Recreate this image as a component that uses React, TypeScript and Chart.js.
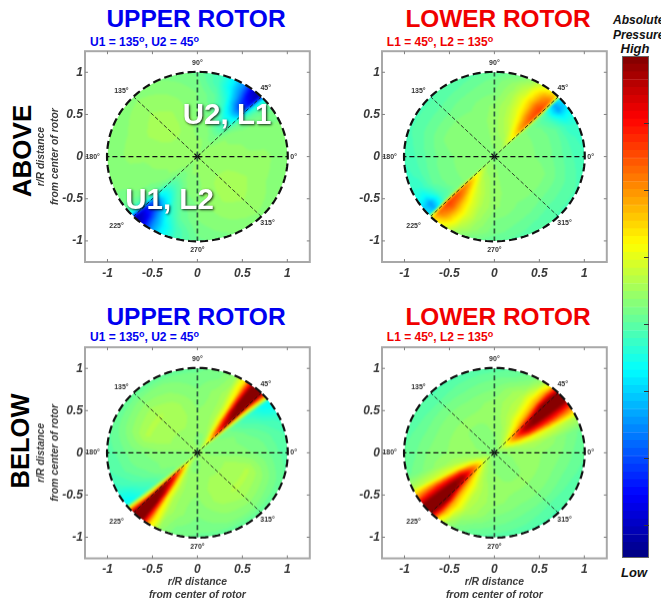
import React, { useEffect, useRef } from "react";
import { Chart, registerables } from "chart.js";

Chart.register(...registerables);

const FONT = '"Liberation Sans", Arial, sans-serif';

const radii = [0, 0.15, 0.3, 0.45, 0.6, 0.75, 0.9, 1];
const angles = [0, 15, 25, 32, 38, 43, 45, 47, 52, 58, 65, 75, 90, 115, 135, 160];

const aboveUpper = [
  [.52,.52,.52,.52,.52,.52,.52,.52,.52,.52,.52,.52,.52,.52,.52,.52],
  [.52,.52,.52,.52,.52,.52,.51,.51,.51,.51,.51,.52,.52,.52,.53,.53],
  [.52,.52,.52,.52,.51,.5,.5,.49,.49,.49,.5,.51,.51,.53,.53,.53],
  [.52,.52,.51,.51,.5,.48,.46,.45,.44,.45,.47,.5,.51,.53,.54,.53],
  [.52,.51,.51,.5,.49,.45,.4,.38,.36,.38,.44,.48,.5,.53,.54,.53],
  [.52,.51,.51,.5,.48,.42,.3,.2,.2,.3,.41,.47,.5,.52,.53,.52],
  [.51,.51,.5,.49,.47,.38,.2,.08,.12,.26,.36,.44,.49,.51,.52,.51],
  [.51,.5,.5,.49,.47,.36,.15,.04,.08,.25,.36,.44,.48,.5,.51,.5],
];
const aboveLower = [
  [.51,.51,.51,.51,.51,.51,.51,.51,.51,.51,.51,.51,.51,.51,.51,.51],
  [.51,.51,.51,.51,.51,.51,.52,.54,.54,.53,.52,.52,.52,.51,.51,.51],
  [.51,.51,.51,.51,.51,.51,.58,.63,.61,.58,.55,.54,.52,.51,.51,.51],
  [.5,.5,.5,.5,.5,.51,.66,.74,.7,.63,.58,.55,.52,.51,.51,.51],
  [.49,.49,.49,.49,.48,.5,.7,.8,.76,.67,.6,.55,.52,.5,.5,.5],
  [.47,.47,.47,.45,.44,.46,.72,.82,.78,.68,.6,.54,.5,.49,.48,.48],
  [.45,.44,.42,.37,.28,.3,.64,.76,.72,.64,.56,.52,.49,.47,.46,.46],
  [.44,.43,.42,.39,.34,.36,.58,.66,.62,.58,.52,.49,.47,.46,.45,.45],
];
const belowUpper = [
  [.52,.52,.52,.52,.52,.52,.52,.52,.52,.52,.52,.52,.52,.52,.52,.52],
  [.51,.51,.51,.51,.51,.54,.58,.6,.58,.55,.52,.51,.51,.52,.52,.52],
  [.51,.51,.51,.5,.5,.6,.78,.82,.72,.6,.54,.52,.52,.53,.53,.53],
  [.51,.5,.5,.49,.48,.62,.92,.96,.84,.62,.55,.52,.52,.54,.54,.54],
  [.5,.49,.48,.46,.45,.66,1,1,.95,.62,.54,.52,.51,.54,.55,.55],
  [.49,.48,.46,.44,.42,.7,1,1,1,.64,.54,.52,.5,.52,.53,.52],
  [.47,.46,.44,.4,.38,.8,1,1,1,.66,.53,.5,.49,.5,.5,.49],
  [.46,.45,.43,.39,.38,.85,1,1,1,.65,.52,.49,.48,.47,.47,.47],
];
const belowLower = [
  [.5,.5,.5,.5,.5,.5,.5,.5,.5,.5,.5,.5,.5,.5,.5,.5],
  [.52,.53,.56,.58,.58,.57,.56,.56,.55,.54,.53,.52,.51,.51,.51,.51],
  [.52,.54,.62,.72,.78,.76,.72,.68,.62,.58,.55,.53,.52,.51,.51,.52],
  [.52,.54,.62,.84,.96,.94,.86,.78,.68,.62,.57,.54,.52,.52,.52,.52],
  [.51,.53,.6,.85,1,1,.98,.86,.7,.62,.56,.54,.52,.51,.51,.51],
  [.5,.51,.58,.84,1,1,1,.98,.72,.62,.55,.53,.5,.49,.49,.49],
  [.48,.49,.56,.8,1,1,1,.95,.7,.56,.51,.49,.48,.47,.46,.47],
  [.47,.48,.55,.76,1,1,1,.9,.62,.52,.49,.47,.46,.45,.45,.46],
];

const axisTicks = [-1, -0.5, 0, 0.5, 1];
const spokeAngles = [45, 135, 225, 315];
const horizontalAngles = [0, 180];
const verticalAngles = [90, 270];
const angleLabels = ["90°", "45°", "135°", "180°", "0°", "225°", "270°", "315°"];
const angleLabelX = [0, 0.76, -0.845, -1.165, 1.07, -0.9, 0, 0.78];
const angleLabelY = [1.11, 0.81, 0.78, 0, 0, -0.82, -1.11, -0.79];
const axisTitle = ["r/R distance", "from center of rotor"];
const colorbarTicks = [0.5, 1.5, 2.5, 3.5, 4.5, 5.5, 6.5];
const colorbarSpan = 7.5;
const LEVELS = 64;

const clamp = (v: number) => Math.max(0, Math.min(1, v));
const jet = (v: number) => [
  clamp(1.5 - Math.abs(4 * v - 3)),
  clamp(1.5 - Math.abs(4 * v - 2)),
  clamp(1.5 - Math.abs(4 * v - 1)),
].map((c) => Math.round(c * 255));
const levelColor = (i: number) => jet((i + 0.5) / LEVELS);

function sample(matrix: number[][], r: number, deg: number) {
  let ri = 0;
  while (ri < radii.length - 2 && r > radii[ri + 1]) ri++;
  const rt = clamp((r - radii[ri]) / (radii[ri + 1] - radii[ri]));
  let ci = angles.length - 1;
  while (ci > 0 && deg < angles[ci]) ci--;
  const next = (ci + 1) % angles.length;
  const a1 = ci === angles.length - 1 ? 180 : angles[ci + 1];
  const at = (deg - angles[ci]) / (a1 - angles[ci]);
  const lo = matrix[ri][ci] * (1 - at) + matrix[ri][next] * at;
  const hi = matrix[ri + 1][ci] * (1 - at) + matrix[ri + 1][next] * at;
  return lo * (1 - rt) + hi * rt;
}

function makeHeatPlugin(matrix: number[][], overlay?: { text: string; x: number; y: number }[]) {
  return {
    id: "panelDecor",
    beforeDatasetsDraw(chart: any) {
      const { ctx, chartArea: a, scales } = chart;
      const sx = scales.x, sy = scales.y;
      const w = Math.ceil(a.right - a.left), h = Math.ceil(a.bottom - a.top);
      const off = document.createElement("canvas");
      off.width = w; off.height = h;
      const octx = off.getContext("2d")!;
      const img = octx.createImageData(w, h);
      for (let j = 0; j < h; j++) {
        const y = sy.getValueForPixel(a.top + j + 0.5);
        for (let i = 0; i < w; i++) {
          const x = sx.getValueForPixel(a.left + i + 0.5);
          const r = Math.hypot(x, y);
          if (r > 1.03) continue;
          let deg = (Math.atan2(y, x) * 180) / Math.PI;
          deg = ((deg % 180) + 180) % 180;
          const v = sample(matrix, Math.min(r, 1), deg);
          const c = levelColor(Math.min(LEVELS - 1, Math.floor(v * LEVELS)));
          const k = (j * w + i) * 4;
          img.data[k] = c[0]; img.data[k + 1] = c[1]; img.data[k + 2] = c[2]; img.data[k + 3] = 255;
        }
      }
      octx.putImageData(img, 0, 0);
      const cx = sx.getPixelForValue(0), cy = sy.getPixelForValue(0);
      ctx.save();
      ctx.beginPath();
      ctx.ellipse(cx, cy, sx.getPixelForValue(1) - cx, cy - sy.getPixelForValue(1), 0, 0, Math.PI * 2);
      ctx.clip();
      ctx.filter = "blur(1px)";
      ctx.drawImage(off, a.left, a.top);
      ctx.restore();
    },
    afterDatasetsDraw(chart: any) {
      const { ctx, chartArea: a, scales } = chart;
      const sx = scales.x, sy = scales.y;
      ctx.save();
      ctx.strokeStyle = "#a8a8a8";
      ctx.lineWidth = 2;
      ctx.strokeRect(a.left, a.top, a.right - a.left, a.bottom - a.top);
      ctx.strokeStyle = "#808080";
      ctx.lineWidth = 1;
      ctx.beginPath();
      axisTicks.forEach((t) => {
        const px = sx.getPixelForValue(t), py = sy.getPixelForValue(t);
        ctx.moveTo(px, a.top); ctx.lineTo(px, a.top + 3);
        ctx.moveTo(px, a.bottom); ctx.lineTo(px, a.bottom - 3);
        ctx.moveTo(a.left, py); ctx.lineTo(a.left + 3, py);
        ctx.moveTo(a.right, py); ctx.lineTo(a.right - 3, py);
      });
      ctx.stroke();
      ctx.font = `bold 7px ${FONT}`;
      ctx.fillStyle = "#333";
      ctx.textAlign = "center";
      ctx.textBaseline = "middle";
      angleLabels.forEach((t, i) => {
        ctx.fillText(t, sx.getPixelForValue(angleLabelX[i]), sy.getPixelForValue(angleLabelY[i]));
      });
      if (overlay) {
        ctx.font = `bold 29.5px ${FONT}`;
        ctx.fillStyle = "#fff";
        ctx.shadowColor = "rgba(0,0,0,0.85)";
        ctx.shadowBlur = 2.5;
        ctx.shadowOffsetX = 1;
        ctx.shadowOffsetY = 1;
        overlay.forEach((o) => ctx.fillText(o.text, sx.getPixelForValue(o.x), sy.getPixelForValue(o.y)));
      }
      ctx.restore();
    },
  };
}

type PanelProps = {
  matrix: number[][];
  left: number;
  top: number;
  axisW: number;
  axisH: number;
  yTitle?: boolean;
  xTitle?: boolean;
  overlay?: { text: string; x: number; y: number }[];
};

const BOX_W = 226;
const BOX_H = 212;
const PAD = 4;

function Panel({ matrix, left, top, axisW, axisH, yTitle, xTitle, overlay }: PanelProps) {
  const ref = useRef<HTMLCanvasElement>(null);
  useEffect(() => {
    const tickFont = { family: FONT, size: 12, weight: "bold", style: "italic" };
    const titleFont = { family: FONT, size: 10.4, weight: "bold", style: "italic", lineHeight: 1.26 };
    const setTicks = (axis: any) => { axis.ticks = axisTicks.map((value) => ({ value })); };
    const circle = Array.from({ length: 181 }, (_, i) => ({
      x: Math.cos((i * 2 * Math.PI) / 180 + Math.PI / 4) * 1.005,
      y: Math.sin((i * 2 * Math.PI) / 180 + Math.PI / 4) * 1.005,
    }));
    const ray = (deg: number) => [
      { x: 0, y: 0 },
      { x: Math.cos((deg * Math.PI) / 180), y: Math.sin((deg * Math.PI) / 180) },
    ];
    const line = (data: any, width: number, dash: number[], color = "#111") => ({
      data, showLine: true, pointRadius: 0, borderColor: color, borderWidth: width, borderDash: dash, fill: false, clip: false,
    });
    const chart = new Chart(ref.current!, {
      type: "scatter",
      data: {
        datasets: [
          ...spokeAngles.map((d) => line(ray(d), 0.8, [4, 2])),
          ...horizontalAngles.map((d) => line(ray(d), 1.3, [5, 3])),
          ...verticalAngles.map((d) => line(ray(d), 1.7, [5, 3], "#2c5c40")),
          line(circle, 2.2, [8, 4]),
          { data: [{ x: 0, y: 0 }], pointStyle: "star", pointRadius: 4, borderColor: "#111", borderWidth: 1.2, showLine: false },
        ],
      } as any,
      options: {
        animation: false,
        responsive: false,
        events: [],
        layout: { padding: { top: PAD, right: PAD, left: 0, bottom: 0 } },
        plugins: { legend: { display: false }, tooltip: { enabled: false } },
        scales: {
          x: {
            type: "linear", min: -1.25, max: 1.25,
            afterBuildTicks: setTicks,
            afterFit: (s: any) => { s.height = axisH; s.paddingLeft = 0; s.paddingRight = 0; },
            grid: { display: false, drawTicks: false },
            border: { display: false },
            ticks: { font: tickFont, color: "#3a3a3a", padding: 4, maxRotation: 0, autoSkip: false, callback: (v: any) => String(v) },
            title: { display: !!xTitle, text: axisTitle, font: titleFont, color: "#3a3a3a", padding: 0 },
          },
          y: {
            type: "linear", min: -1.25, max: 1.25,
            afterBuildTicks: setTicks,
            afterFit: (s: any) => { s.width = axisW; s.paddingTop = 0; s.paddingBottom = 0; },
            grid: { display: false, drawTicks: false },
            border: { display: false },
            ticks: { font: tickFont, color: "#3a3a3a", padding: 2, autoSkip: false, callback: (v: any) => String(v) },
            title: { display: !!yTitle, text: axisTitle, font: titleFont, color: "#3a3a3a", padding: 0 },
          },
        },
      } as any,
      plugins: [makeHeatPlugin(matrix, overlay)],
    });
    return () => chart.destroy();
  }, []);
  return (
    <canvas
      ref={ref}
      width={axisW + BOX_W + PAD}
      height={axisH + BOX_H + PAD}
      style={{ position: "absolute", left, top, width: axisW + BOX_W + PAD, height: axisH + BOX_H + PAD }}
    />
  );
}

function Colorbar() {
  const ref = useRef<HTMLCanvasElement>(null);
  useEffect(() => {
    const levels = Array.from({ length: LEVELS }, (_, i) => LEVELS - 1 - i);
    const colors = levels.map((l) => {
      const c = levelColor(l);
      return `rgb(${c[0]},${c[1]},${c[2]})`;
    });
    const chart = new Chart(ref.current!, {
      type: "bar",
      data: {
        labels: levels.map(String),
        datasets: [{
          data: levels.map(() => 1),
          backgroundColor: colors,
          borderColor: colors,
          borderWidth: 0.5,
          barPercentage: 1,
          categoryPercentage: 1,
        }],
      },
      options: {
        indexAxis: "y",
        animation: false,
        responsive: false,
        events: [],
        plugins: { legend: { display: false }, tooltip: { enabled: false } },
        scales: {
          x: { display: false, min: 0, max: 1 },
          y: { display: false },
        },
      } as any,
      plugins: [{
        id: "colorbarFrame",
        afterDraw(c: any) {
          const { ctx, chartArea: a } = c;
          ctx.save();
          ctx.strokeStyle = "#666";
          ctx.lineWidth = 1;
          ctx.strokeRect(a.left + 0.5, a.top + 0.5, a.right - a.left - 1, a.bottom - a.top - 1);
          ctx.strokeStyle = "#333";
          ctx.beginPath();
          colorbarTicks.forEach((t) => {
            const y = Math.round(a.bottom - (t / colorbarSpan) * (a.bottom - a.top)) + 0.5;
            ctx.moveTo(a.right - 5, y);
            ctx.lineTo(a.right, y);
          });
          ctx.stroke();
          ctx.restore();
        },
      }],
    });
    return () => chart.destroy();
  }, []);
  return (
    <canvas ref={ref} width={27} height={502}
      style={{ position: "absolute", left: 622, top: 56, width: 27, height: 502 }} />
  );
}

function Label({ x, y, size, color, italic, rotate, start, children }: any) {
  return (
    <div style={{
      position: "absolute", left: x, top: y,
      transform: `translate(${start ? "0" : "-50%"},-50%)${rotate ? " rotate(-90deg)" : ""}`,
      fontFamily: FONT, fontWeight: "bold", fontStyle: italic ? "italic" : "normal",
      fontSize: size, color, whiteSpace: "nowrap", lineHeight: 1,
    }}>{children}</div>
  );
}

const Sup = () => <sup style={{ fontSize: "0.75em", lineHeight: 0, verticalAlign: "0.45em" }}>o</sup>;

export default function App() {
  return (
    <div style={{ position: "absolute", left: 0, top: 0, width: 661, height: 603, overflow: "hidden", background: "#fff", filter: "blur(0.35px)" }}>
      <Label x={196} y={19} size={24.5} color="#0000f0">UPPER ROTOR</Label>
      <Label x={498} y={19} size={24.4} color="#f00000">LOWER ROTOR</Label>
      <Label x={144.5} y={42} size={12} color="#0000f0">U1 = 135<Sup />, U2 = 45<Sup /></Label>
      <Label x={440} y={42} size={12} color="#f00000">L1 = 45<Sup />, L2 = 135<Sup /></Label>
      <Label x={196} y={317} size={24.5} color="#0000f0">UPPER ROTOR</Label>
      <Label x={498} y={317} size={24.4} color="#f00000">LOWER ROTOR</Label>
      <Label x={144.5} y={337} size={12} color="#0000f0">U1 = 135<Sup />, U2 = 45<Sup /></Label>
      <Label x={440} y={337} size={12} color="#f00000">L1 = 45<Sup />, L2 = 135<Sup /></Label>
      <Label x={22} y={151} size={26} color="#000" rotate>ABOVE</Label>
      <Label x={21} y={441} size={25.5} color="#000" rotate>BELOW</Label>
      <Label x={613} y={20} size={12} color="#111" italic start>Absolute</Label>
      <Label x={613} y={35} size={12} color="#111" italic start>Pressure</Label>
      <Label x={635} y={48} size={13} color="#111" italic>High</Label>
      <Label x={634} y={572} size={13} color="#111" italic>Low</Label>
      <Panel matrix={aboveUpper} left={35} top={46} axisW={50} axisH={25} yTitle
        overlay={[{ text: "U2, L1", x: 0.33, y: 0.48 }, { text: "U1, L2", x: -0.31, y: -0.53 }]} />
      <Panel matrix={aboveLower} left={345} top={46} axisW={37} axisH={25} />
      <Panel matrix={belowUpper} left={35} top={342} axisW={50} axisH={43.5} yTitle xTitle />
      <Panel matrix={belowLower} left={345} top={342} axisW={37} axisH={43.5} xTitle />
      <Colorbar />
    </div>
  );
}
